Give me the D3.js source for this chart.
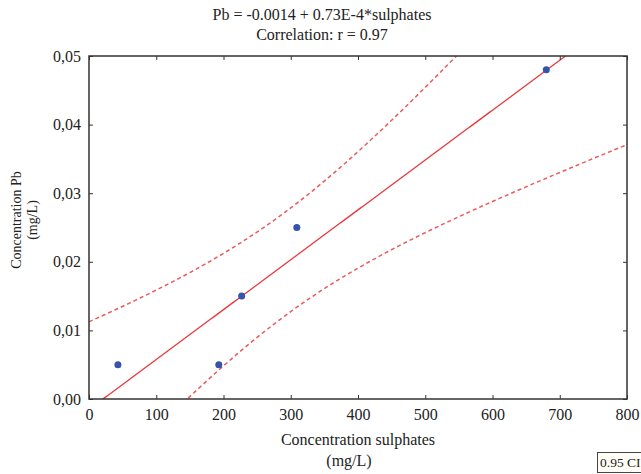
<!DOCTYPE html>
<html>
<head>
<meta charset="utf-8">
<script src="https://cdn.jsdelivr.net/npm/d3@7"></script>
<style>
  body { margin: 0; background: #fff; }
  text { font-family: "Liberation Serif", "Times New Roman", serif; fill: #222; }
</style>
</head>
<body>
<div id="container"></div>
<script>
// data
var sulphates = [43, 193, 227, 309, 680];
var lead = [0.005, 0.005, 0.015, 0.025, 0.048];
var xTicks = [0, 100, 200, 300, 400, 500, 600, 700, 800];
var yTicks = [0, 0.01, 0.02, 0.03, 0.04, 0.05];
var titleLines = ["Pb = -0.0014 + 0.73E-4*sulphates", "Correlation: r = 0.97"];

function makeChart() {
	var w = 641, h = 474;
	var pLeft = 89, pRight = 627, pTop = 56, pBottom = 399;

	var svg = d3.select("#container").append("svg")
		.attr("width", w)
		.attr("height", h);

	var x = d3.scaleLinear().domain([0, 800]).range([pLeft, pRight]);
	var y = d3.scaleLinear().domain([0, 0.05]).range([pBottom, pTop]);

	//least squares fit + 95% confidence band for the mean
	var n = sulphates.length;
	var mx = d3.mean(sulphates), my = d3.mean(lead);
	var sxx = d3.sum(sulphates, function(d) { return (d - mx) * (d - mx); });
	var sxy = d3.sum(sulphates, function(d, i) { return (d - mx) * (lead[i] - my); });
	var slope = sxy / sxx, icpt = my - slope * mx;
	var sse = d3.sum(sulphates, function(d, i) { var r = lead[i] - (icpt + slope * d); return r * r; });
	var s = Math.sqrt(sse / (n - 2));
	var tval = 3.182; // t(0.975, df=3)

	function fit(v) { return icpt + slope * v; }
	function band(v) { return tval * s * Math.sqrt(1 / n + (v - mx) * (v - mx) / sxx); }

	var xs = d3.range(0, 801, 4);

	svg.append("clipPath").attr("id", "plot")
		.append("rect")
		.attr("x", pLeft).attr("y", pTop)
		.attr("width", pRight - pLeft).attr("height", pBottom - pTop);

	var g = svg.append("g").attr("clip-path", "url(#plot)");

	var line = d3.line()
		.x(function(d) { return x(d[0]); })
		.y(function(d) { return y(d[1]); });

	g.append("path")
		.datum(xs.map(function(v) { return [v, fit(v)]; }))
		.attr("d", line)
		.attr("fill", "none")
		.attr("stroke", "#e8393c")
		.attr("stroke-width", 1.3);

	[1, -1].forEach(function(sign) {
		g.append("path")
			.datum(xs.map(function(v) { return [v, fit(v) + sign * band(v)]; }))
			.attr("d", line)
			.attr("fill", "none")
			.attr("stroke", "#ec5a5c")
			.attr("stroke-width", 1.5)
			.attr("stroke-dasharray", "4,3");
	});

	g.selectAll("circle")
		.data(sulphates)
		.enter()
		.append("circle")
		.attr("cx", function(d) { return x(d); })
		.attr("cy", function(d, i) { return y(lead[i]); })
		.attr("r", 3.5)
		.attr("fill", "#3553a8");

	//axes, ticks inward on all four sides
	var fmt = function(d) { return d3.format(".2f")(d).replace(".", ","); };

	svg.append("g").attr("transform", "translate(0," + pBottom + ")")
		.call(d3.axisBottom(x).tickValues(xTicks).tickSizeInner(-4).tickSizeOuter(0).tickPadding(10))
		.call(function(a) { a.select(".domain").remove(); a.selectAll("text").attr("font-size", "16px"); });
	svg.append("g").attr("transform", "translate(0," + pTop + ")")
		.call(d3.axisTop(x).tickValues(xTicks).tickSizeInner(-4).tickSizeOuter(0).tickFormat(""))
		.call(function(a) { a.select(".domain").remove(); });
	svg.append("g").attr("transform", "translate(" + pLeft + ",0)")
		.call(d3.axisLeft(y).tickValues(yTicks).tickFormat(fmt).tickSizeInner(-4).tickSizeOuter(0).tickPadding(8))
		.call(function(a) { a.select(".domain").remove(); a.selectAll("text").attr("font-size", "16px"); });
	svg.append("g").attr("transform", "translate(" + pRight + ",0)")
		.call(d3.axisRight(y).tickValues(yTicks).tickSizeInner(-4).tickSizeOuter(0).tickFormat(""))
		.call(function(a) { a.select(".domain").remove(); });

	svg.selectAll(".tick line").attr("stroke", "#333");
	svg.selectAll(".tick text").style("font-family", "Liberation Serif").attr("fill", "#222");

	svg.append("rect")
		.attr("x", pLeft).attr("y", pTop)
		.attr("width", pRight - pLeft).attr("height", pBottom - pTop)
		.attr("fill", "none")
		.attr("stroke", "#333")
		.attr("stroke-width", 1.5);

	//titles
	svg.selectAll("text.title")
		.data(titleLines)
		.enter()
		.append("text")
		.attr("class", "title")
		.attr("x", 322)
		.attr("y", function(d, i) { return 20 + i * 20; })
		.attr("text-anchor", "middle")
		.attr("font-size", "16px")
		.text(function(d) { return d; });

	svg.append("text").attr("x", 358).attr("y", 445)
		.attr("text-anchor", "middle").attr("font-size", "16px")
		.text("Concentration sulphates");
	svg.append("text").attr("x", 349).attr("y", 466)
		.attr("text-anchor", "middle").attr("font-size", "16px")
		.text("(mg/L)");

	svg.append("text").attr("transform", "translate(21,220) rotate(-90)")
		.attr("text-anchor", "middle").attr("font-size", "14px")
		.text("Concentration Pb");
	svg.append("text").attr("transform", "translate(37,220) rotate(-90)")
		.attr("text-anchor", "middle").attr("font-size", "14px")
		.text("(mg/L)");

	//legend box
	svg.append("rect")
		.attr("x", 597.5).attr("y", 452.5)
		.attr("width", 50).attr("height", 20)
		.attr("fill", "#fffdf6")
		.attr("stroke", "#444");
	svg.append("text").attr("x", 600).attr("y", 467)
		.attr("font-size", "13.5px")
		.text("0.95 CI");
}

makeChart();
</script>
</body>
</html>
